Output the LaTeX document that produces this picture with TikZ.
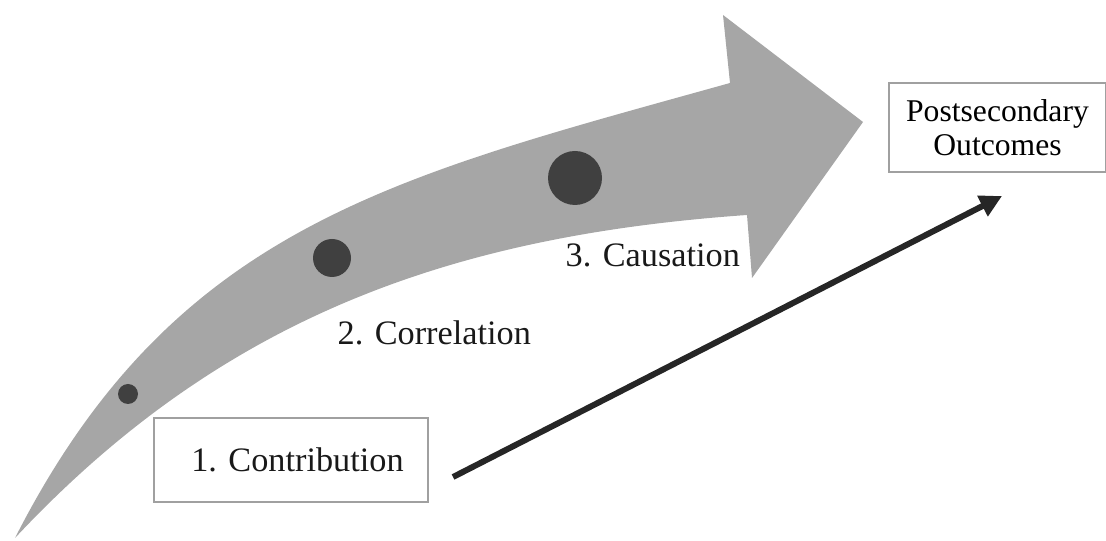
\documentclass[tikz,border=0pt]{standalone}
\usepackage{fontspec}
\setmainfont{Liberation Serif}
\definecolor{bandgray}{RGB}{166, 166, 166}
\definecolor{dotgray}{RGB}{64, 64, 64}
\definecolor{boxgray}{RGB}{160, 160, 160}
\definecolor{arrowblack}{RGB}{38, 38, 38}
\usetikzlibrary{arrows.meta, calc}

\begin{document}
\begin{tikzpicture}[
        labeltext/.style={font=\fontsize{9.75}{11}\selectfont, text=black!90},
        stagebox/.style={draw=boxgray, line width=0.6pt, inner sep=0pt, align=center},
        stagedot/.style={circle, fill=dotgray, inner sep=0pt}]
    \useasboundingbox (0,0) rectangle (11.06,5.40);

    % Curved band with its arrow head
    \fill[bandgray] (0.15,0.02) .. controls (1.74,3.14) and (3.93,3.63) .. (7.30,4.57)
        -- (7.23,5.25) -- (8.63,4.18) -- (7.52,2.62) -- (7.47,3.25)
        .. controls (4.48,3.04) and (2.20,2.21) .. (0.15,0.02) -- cycle;

    % Dots growing along the band
    \node[stagedot, minimum size=2mm] (dotone) at (1.28,1.46) {};
    \node[stagedot, minimum size=3.8mm] (dottwo) at (3.32,2.82) {};
    \node[stagedot, minimum size=5.4mm] (dotthree) at (5.75,3.62) {};

    % Stage labels
    \node[labeltext, anchor=base west, inner sep=0pt] (correlation) at (3.37,1.95) {2. Correlation};
    \node[labeltext, anchor=base west, inner sep=0pt] (causation) at (5.65,2.73) {3. Causation};

    % Boxes
    \node[stagebox, labeltext, minimum width=2.74cm, minimum height=0.84cm] (contribution) at (2.91,0.80) {\hspace{0.13cm}1. Contribution};
    \node[stagebox, font=\fontsize{9}{9.7}\selectfont, minimum width=2.17cm, minimum height=0.89cm] (outcomes) at (9.975,4.125) {Postsecondary\\Outcomes};

    % Straight arrow to the outcomes
    \draw[arrowblack, line width=1.7pt, -{Triangle[length=2.2mm, width=2.2mm]}] ($(contribution.east)+(0.24,-0.17)$) -- ($(outcomes.south)+(0.045,-0.23)$);
\end{tikzpicture}
\end{document}
